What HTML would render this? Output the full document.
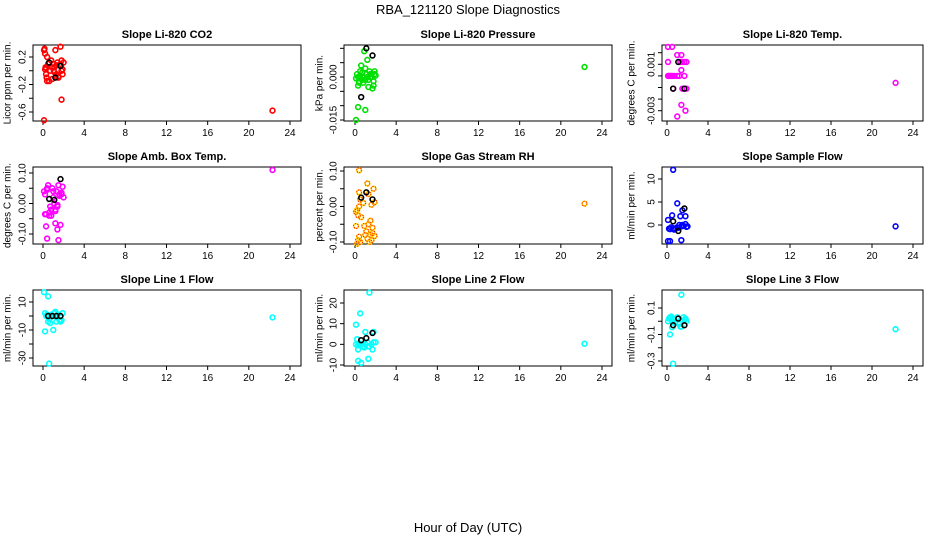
<!DOCTYPE html>
<html><head><meta charset="utf-8">
<style>
html,body{margin:0;padding:0;background:#fff;}
svg{display:block;font-family:"Liberation Sans",Arial,sans-serif;}
</style></head>
<body>
<svg id="chart" width="936" height="540" viewBox="0 0 936 540" xmlns="http://www.w3.org/2000/svg">
<text x="468" y="14" text-anchor="middle" font-size="13">RBA_121120  Slope Diagnostics</text>
<text x="468" y="532" text-anchor="middle" font-size="13">Hour of Day (UTC)</text>
<g id="panels"></g>
</svg>
<script>
const xTicks = [0,4,8,12,16,20,24];
const titles = ["Slope Li-820 CO2","Slope Li-820 Pressure","Slope Li-820 Temp.","Slope Amb. Box Temp.","Slope Gas Stream RH","Slope Sample Flow","Slope Line 1 Flow","Slope Line 2 Flow","Slope Line 3 Flow"];
const yTitles = ["Licor ppm per min.","kPa per min.","degrees C per min.","degrees C per min.","percent per min.","ml/min per min.","ml/min per min.","ml/min per min.","ml/min per min."];

// panel 1 CO2
const co2X = [0.1,0.15,0.2,0.25,0.3,0.35,0.4,0.5,0.6,0.7,0.8,0.9,1.0,1.05,1.1,1.2,1.3,1.4,1.5,1.6,1.7,1.8,1.9,2.0,0.2,0.4,0.9,1.3,1.5,1.8,1.9,0.3,1.1,1.7,22.3,0.1,1.8];
const co2Y = [0.3,0.32,0.25,0.05,-0.05,-0.1,0.2,0.1,-0.15,0.0,0.15,-0.12,0.1,0.0,0.05,0.3,-0.05,0.12,-0.1,0.08,0.35,0.15,-0.05,0.12,0.02,-0.15,0.05,0.08,-0.08,0.0,0.02,0.04,-0.02,0.1,-0.58,-0.72,-0.42];
const co2BX = [0.6,1.7,1.2];
const co2BY = [0.12,0.07,-0.1];
const co2Ticks = [0.2,0.0,-0.2,-0.4,-0.6];
const co2Labels = ["0.2","","-0.2","","-0.6"];

// panel 2 pressure
const presX = [0.1,0.2,0.3,0.4,0.5,0.6,0.7,0.8,0.9,1.0,1.1,1.2,1.3,1.4,1.5,1.6,1.7,1.8,1.9,2.0,0.3,0.5,0.8,1.2,1.5,1.8,0.4,0.7,1.0,1.3,1.6,1.9,0.3,1.0,22.3,0.1];
const presY = [-0.0005,0.001,0.0,-0.002,0.002,0.004,-0.001,0.0,0.009,0.003,0.001,0.006,-0.001,0.002,0.0,0.001,-0.004,-0.003,0.002,0.0005,-0.003,0.0005,-0.002,0.0,0.001,-0.0015,-0.0005,0.0015,-0.001,-0.0035,0.0,0.001,-0.0105,-0.0115,0.0035,-0.015];
const presBX = [1.1,1.7,0.6];
const presBY = [0.010,0.0075,-0.007];
const presTicks = [0.010,0.005,0.0,-0.005,-0.010,-0.015];
const presLabels = ["","","0.000","","","-0.015"];

// panel 3 Li temp
const ltX = [0.1,0.5,1.0,1.4,0.1,1.3,1.5,1.7,1.9,1.4,0.1,0.2,0.3,0.4,0.5,0.7,1.0,1.2,1.7,0.6,1.5,1.9,1.4,1.8,1.0,22.3];
const ltY = [0.0025,0.0025,0.0018,0.0018,0.0012,0.0012,0.0012,0.0012,0.0012,0.0005,0.0,0.0,0.0,0.0,0.0,0.0,0.0,0.0,0.0,-0.0011,-0.0011,-0.0011,-0.0025,-0.003,-0.0035,-0.0006];
const ltBX = [1.1,0.6,1.7];
const ltBY = [0.0012,-0.0011,-0.0011];
const ltTicks = [0.002,0.001,0.0,-0.001,-0.002,-0.003];
const ltLabels = ["","0.001","","","","-0.003"];

// panel 4 ambient box temp
const abX = [0.1,0.2,0.3,0.4,0.5,0.6,0.7,0.8,0.9,1.0,1.1,1.2,1.3,1.4,1.5,1.6,1.7,1.8,1.9,2.0,0.2,0.4,0.6,0.8,1.0,1.2,1.4,1.6,1.8,0.3,0.4,1.2,1.4,1.5,22.3];
const abY = [0.04,0.03,-0.035,0.05,0.06,-0.03,-0.01,-0.04,0.05,0.02,0.0,-0.02,0.04,-0.005,0.06,0.03,-0.07,0.03,0.055,0.02,-0.035,0.045,-0.04,-0.02,0.04,-0.025,-0.01,0.025,0.035,-0.075,-0.115,-0.065,-0.085,-0.12,0.11];
const abBX = [1.7,0.6,1.1];
const abBY = [0.08,0.015,0.012];
const abTicks = [0.10,0.05,0.0,-0.05,-0.10];
const abLabels = ["0.10","","0.00","","-0.10"];

// panel 5 gas stream RH
const rhX = [0.4,1.2,1.8,0.4,0.8,1.3,1.9,1.6,0.2,0.4,0.6,0.1,0.3,0.5,1.5,1.7,0.1,0.9,1.1,1.3,1.5,0.4,1.0,1.2,1.7,1.9,0.3,0.5,1.4,1.6,0.2,22.3];
const rhY = [0.102,0.065,0.05,0.04,0.01,0.035,0.012,0.005,-0.01,0.0,-0.03,-0.015,-0.025,0.02,-0.04,-0.06,-0.055,-0.055,-0.07,-0.05,-0.08,-0.085,-0.08,-0.09,-0.075,-0.083,-0.095,-0.1,-0.1,-0.095,-0.105,0.008];
const rhBX = [0.6,1.1,1.7];
const rhBY = [0.025,0.04,0.02];
const rhTicks = [0.10,0.05,0.0,-0.05,-0.10];
const rhLabels = ["0.10","","0.00","","-0.10"];

// panel 6 sample flow
const sfX = [0.6,1.0,1.5,0.5,1.3,1.8,0.1,0.2,0.4,0.6,0.8,1.0,1.2,1.4,1.6,1.8,2.0,0.3,0.7,1.1,1.5,1.9,0.1,0.3,1.4,22.3];
const sfY = [12,4.7,3.2,2.1,1.9,1.9,1.1,-0.8,-0.5,-0.7,-0.9,-0.5,0.0,-0.3,-0.2,0.2,-0.3,-0.9,-1.0,-0.6,0.0,-0.4,-3.5,-3.5,-3.3,-0.3];
const sfBX = [0.6,1.1,1.7];
const sfBY = [0.8,-1.3,3.6];
const sfTicks = [10,5,0];
const sfLabels = ["10","5","0"];

// panel 7 line 1 flow
const l1X = [0.1,0.5,0.2,0.3,0.4,0.6,0.8,1.0,1.2,1.4,1.6,1.8,1.9,0.5,0.7,1.3,1.7,1.1,0.2,1.0,0.6,22.3];
const l1Y = [17,14,2,0,1,-2,1,0,3,1,-3,-3,2,-4,-5,-4,-4,2,-11,-10,-34,-1];
const l1BX = [0.5,0.9,1.3,1.7];
const l1BY = [0,0,0,0];
const l1Ticks = [10,0,-10,-20,-30];
const l1Labels = ["10","","-10","","-30"];

// panel 8 line 2 flow
const l2X = [1.4,0.5,0.1,1.0,1.8,0.2,0.3,0.4,0.6,0.8,1.0,1.2,1.4,1.6,1.8,2.0,0.3,0.9,1.3,1.7,0.3,0.6,1.3,0.1,22.3];
const l2Y = [25,15,9.5,6,6,2.5,-0.5,0.5,0,-1,0,1,-1,0,1,1,-2.5,-1.5,-1,-2.5,-8,-9,-7,0,0.3];
const l2BX = [0.6,1.1,1.7];
const l2BY = [2,3,5.5];
const l2Ticks = [20,10,0,-10];
const l2Labels = ["20","10","0","-10"];

// panel 9 line 3 flow
const l3X = [1.4,0.1,0.2,0.3,0.4,0.5,0.6,0.8,1.0,1.2,1.4,1.6,1.8,1.9,0.5,1.3,0.7,1.7,0.3,0.6,22.3];
const l3Y = [0.2,0.0,0.02,0.03,0.035,0.0,0.02,-0.01,0.03,-0.02,-0.04,0.03,0.02,0.0,-0.045,-0.04,0.01,0.01,-0.1,-0.32,-0.06];
const l3BX = [0.6,1.1,1.7];
const l3BY = [-0.03,0.02,-0.03];
const l3Ticks = [0.1,0.0,-0.1,-0.2,-0.3];
const l3Labels = ["0.1","","-0.1","","-0.3"];

const NS = "http://www.w3.org/2000/svg";
const cols = [{l:33,r:301,x0:43,x24:290,yl:8},{l:344,r:612,x0:355,x24:602,yl:320},{l:662,r:923,x0:667,x24:913,yl:632}];
const rows = [{t:45,b:121},{t:167,b:244},{t:290,b:366}];
// y-range calibration: [value at top anchor, pixel], [value at second anchor, pixel]
const panels = [
 {xs:co2X,ys:co2Y,bx:co2BX,by:co2BY,ticks:co2Ticks,labels:co2Labels,a:[0.2,57,-0.6,112],col:"#ff0000"},
 {xs:presX,ys:presY,bx:presBX,by:presBY,ticks:presTicks,labels:presLabels,a:[0.0,77,-0.015,120],col:"#00e000"},
 {xs:ltX,ys:ltY,bx:ltBX,by:ltBY,ticks:ltTicks,labels:ltLabels,a:[0.001,64.3,-0.003,110.7],col:"#ff00ff"},
 {xs:abX,ys:abY,bx:abBX,by:abBY,ticks:abTicks,labels:abLabels,a:[0.10,173,-0.10,234],col:"#ff00ff"},
 {xs:rhX,ys:rhY,bx:rhBX,by:rhBY,ticks:rhTicks,labels:rhLabels,a:[0.10,171,-0.10,242],col:"#ffd000",inner:"#ff0000"},
 {xs:sfX,ys:sfY,bx:sfBX,by:sfBY,ticks:sfTicks,labels:sfLabels,a:[10,179,0,225],col:"#0000ff"},
 {xs:l1X,ys:l1Y,bx:l1BX,by:l1BY,ticks:l1Ticks,labels:l1Labels,a:[10,302,-30,358],col:"#00ffff"},
 {xs:l2X,ys:l2Y,bx:l2BX,by:l2BY,ticks:l2Ticks,labels:l2Labels,a:[20,303,-10,365],col:"#00ffff"},
 {xs:l3X,ys:l3Y,bx:l3BX,by:l3BY,ticks:l3Ticks,labels:l3Labels,a:[0.1,308,-0.3,361],col:"#00ffff"}
];
const root = document.getElementById("panels");
function mk(tag, attrs, parent){const e=document.createElementNS(NS,tag);for(const k in attrs)e.setAttribute(k,attrs[k]);parent.appendChild(e);return e;}

panels.forEach((p,i)=>{
  const c = cols[i%3], r = rows[Math.floor(i/3)];
  const g = mk("g",{},root);
  
  
  const xS = v => c.x0 + v*(c.x24-c.x0)/24;
  const yS = v => p.a[1] + (v-p.a[0])*(p.a[3]-p.a[1])/(p.a[2]-p.a[0]);
  const box = mk("rect",{x:c.l,y:r.t,width:c.r-c.l,height:r.b-r.t,fill:"none",stroke:"#000","stroke-width":1},g);
  
  
  const t = mk("text",{x:(c.l+c.r)/2,y:r.t-7,"text-anchor":"middle","font-size":11,"font-weight":"bold"},g);
  t.textContent = titles[i];
  
  
  const yl = mk("text",{x:c.yl,y:(r.t+r.b)/2,"text-anchor":"middle","font-size":10,transform:`rotate(-90 ${c.yl} ${(r.t+r.b)/2})`,"dominant-baseline":"middle"},g);
  yl.textContent = yTitles[i];
  
  
  xTicks.forEach(v=>{
    const x=xS(v);
    const tk = mk("line",{x1:x,x2:x,y1:r.b,y2:r.b+4,stroke:"#000"},g);
    
    
    const tl = mk("text",{x:x,y:r.b+15,"text-anchor":"middle","font-size":10},g);
    tl.textContent = v;
    
    
  });
  p.ticks.forEach((v,k)=>{
    const y=yS(v);
    const tk = mk("line",{x1:c.l-4,x2:c.l,y1:y,y2:y,stroke:"#000"},g);
    
    
    if(p.labels[k]){
      const lx=c.l-10;
      const tl = mk("text",{x:lx,y:y,"text-anchor":"middle","font-size":10,"dominant-baseline":"middle",transform:`rotate(-90 ${lx} ${y})`},g);
      tl.textContent = p.labels[k];
      
      
    }
  });
  p.xs.forEach((xv,k)=>{
    const pt = mk("circle",{cx:xS(xv),cy:yS(p.ys[k]),r:2.4,fill:"none",stroke:p.col,"stroke-width":1.6},g);
    
    
    if(p.inner){
      const ip = mk("circle",{cx:xS(xv),cy:yS(p.ys[k]),r:2.4,fill:"none",stroke:p.inner,"stroke-width":1,"stroke-dasharray":"1 1.5"},g);
      
      
    }
  });
  p.bx.forEach((xv,k)=>{
    const bp = mk("circle",{cx:xS(xv),cy:yS(p.by[k]),r:2.4,fill:"none",stroke:"#000","stroke-width":1.6},g);
    
    
  });
});
</script>
</body></html>
